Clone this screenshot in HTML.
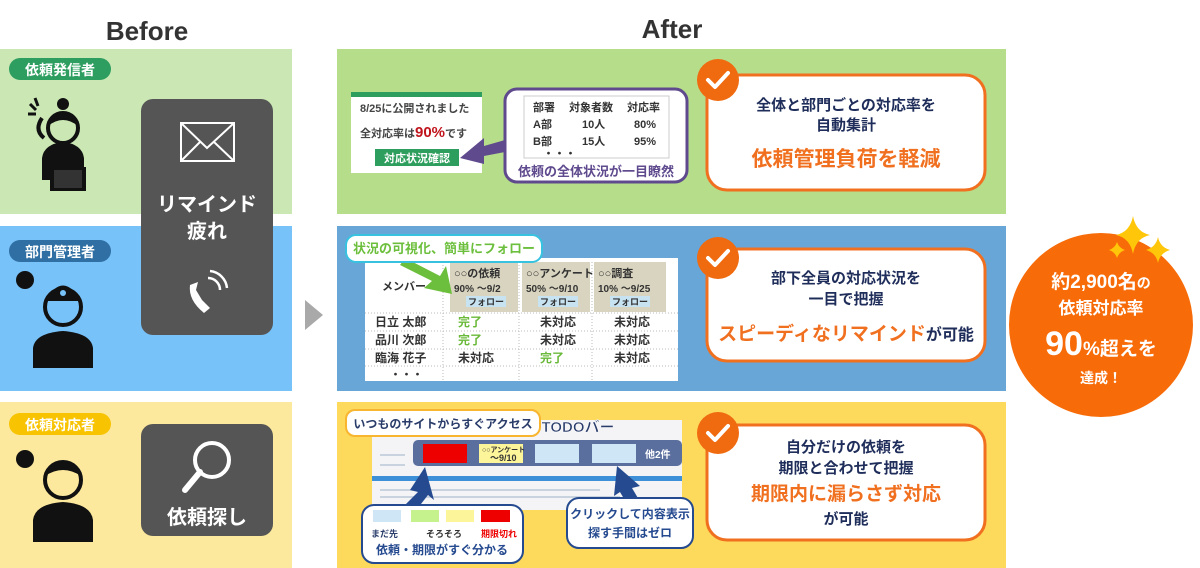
<!DOCTYPE html>
<html><head><meta charset="utf-8"><style>
body{margin:0;background:#fff}
svg{display:block}
text{font-family:"Liberation Sans","Noto Sans CJK JP",sans-serif;font-weight:bold}
</style></head><body>
<svg width="1200" height="568" viewBox="0 0 1200 568" xmlns="http://www.w3.org/2000/svg">
<text x="147" y="40" font-size="26" fill="#333" text-anchor="middle">Before</text>
<text x="672" y="38" font-size="26" fill="#333" text-anchor="middle">After</text>
<rect x="0" y="49" width="292" height="165" fill="#cbe8b4"/>
<rect x="0" y="226" width="292" height="165" fill="#78c2fa"/>
<rect x="0" y="402" width="292" height="166" fill="#fde99d"/>
<rect x="9" y="58" width="102" height="22" rx="11" fill="#2e9e60"/>
<text x="60" y="75" font-size="14" fill="#fff" text-anchor="middle">依頼発信者</text>
<rect x="9" y="240" width="102" height="22" rx="11" fill="#2f6fa3"/>
<text x="60" y="257" font-size="14" fill="#fff" text-anchor="middle">部門管理者</text>
<rect x="9" y="413" width="102" height="22" rx="11" fill="#f8c300"/>
<text x="60" y="430" font-size="14" fill="#fff" text-anchor="middle">依頼対応者</text>
<!-- persons -->
<g fill="#111">
 <circle cx="63" cy="128" r="15" fill="none" stroke="#111" stroke-width="4"/>
 <path d="M48 126 Q63 100 78 126 Q63 114 48 126Z"/>
 <circle cx="63" cy="104" r="6"/>
 <path d="M42 180 L42 158 Q44 144 63 142 Q82 144 84 158 L84 180Z"/>
 <rect x="50" y="167" width="36" height="24" fill="#111"/>
 <rect x="54" y="170" width="28" height="18" fill="#333"/>
 <path d="M42 118 Q34 130 44 138" fill="none" stroke="#111" stroke-width="4"/>
 <path d="M30 104 L36 110 M28 114 L36 114 M35 98 L38 106" stroke="#111" stroke-width="3"/>
 <circle cx="63" cy="307" r="18" fill="none" stroke="#111" stroke-width="4"/>
 <path d="M45 301 Q63 270 81 301Z"/>
 <circle cx="63" cy="293" r="3" fill="#78c2fa"/>
 <path d="M33 368 L33 348 Q35 333 63 331 Q91 333 93 348 L93 368Z"/>
 <circle cx="25" cy="280" r="9"/>
 <circle cx="63" cy="480" r="18" fill="none" stroke="#111" stroke-width="4"/>
 <path d="M45 476 Q63 448 81 476 Q63 464 45 476Z"/>
 <path d="M33 542 L33 520 Q35 504 63 502 Q91 504 93 520 L93 542Z"/>
 <circle cx="25" cy="459" r="9"/>
</g>
<rect x="141" y="99" width="132" height="236" rx="12" fill="#555"/>
<rect x="181" y="123" width="53" height="38" fill="none" stroke="#fff" stroke-width="2"/>
<path d="M181 123 L207 148 L234 123 M181 161 L200 142 M234 161 L214 142" fill="none" stroke="#fff" stroke-width="2"/>
<text x="207" y="211" font-size="20" fill="#fff" text-anchor="middle">リマインド</text>
<text x="207" y="238" font-size="20" fill="#fff" text-anchor="middle">疲れ</text>
<path d="M190 285 Q188 300 204 313 L210 308 L202 300 L196 290 L198 282Z" fill="#fff"/>
<path d="M208 278 A12 12 0 0 1 220 290 M210 271 A19 19 0 0 1 227 288" fill="none" stroke="#fff" stroke-width="2.5"/>
<rect x="141" y="424" width="132" height="112" rx="12" fill="#555"/>
<circle cx="212" cy="460" r="17" fill="none" stroke="#fff" stroke-width="4"/>
<path d="M200 472 L185 490" stroke="#fff" stroke-width="6" stroke-linecap="round"/>
<text x="207" y="524" font-size="20" fill="#fff" text-anchor="middle">依頼探し</text>
<polygon points="305,300 323,315 305,330" fill="#a9a9a9"/>
<rect x="337" y="49" width="669" height="165" fill="#b6dd8a"/>
<rect x="337" y="226" width="669" height="165" fill="#68a6d8"/>
<rect x="337" y="402" width="669" height="166" fill="#fdd95c"/>
<rect x="351" y="92" width="131" height="81" fill="#fff"/>
<rect x="351" y="92" width="131" height="5" fill="#2e9e5e"/>
<text x="360" y="112" font-size="11" fill="#444" font-weight="normal">8/25に公開されました</text>
<text x="360" y="137" font-size="11" fill="#444" font-weight="normal">全対応率は<tspan fill="#c0141c" font-size="15" font-weight="bold">90%</tspan>です</text>
<rect x="375" y="149" width="84" height="17" fill="#2e9e5e"/>
<text x="417" y="162" font-size="11" fill="#fff" text-anchor="middle">対応状況確認</text>
<rect x="505" y="89" width="182" height="93" rx="12" fill="#fff" stroke="#5f4a8e" stroke-width="3"/>
<rect x="524" y="96" width="145" height="62" fill="none" stroke="#ccc"/>
<g font-size="11" fill="#333" font-weight="normal">
<text x="533" y="111">部署</text><text x="569" y="111">対象者数</text><text x="627" y="111">対応率</text>
<text x="533" y="128">A部</text><text x="582" y="128">10人</text><text x="634" y="128">80%</text>
<text x="533" y="145">B部</text><text x="582" y="145">15人</text><text x="634" y="145">95%</text>
<text x="543" y="157">・・・</text></g>
<text x="596" y="176" font-size="13" fill="#5f4a8e" text-anchor="middle">依頼の全体状況が一目瞭然</text>
<polygon points="460,158 484,138 484,146 505,140 505,152 484,156 484,164" fill="#5f4a8e"/>
<rect x="365" y="258" width="313" height="123" fill="#fff"/>
<rect x="450" y="262" width="68" height="50" fill="#d9d4bf"/>
<rect x="522" y="262" width="68" height="50" fill="#d9d4bf"/>
<rect x="594" y="262" width="72" height="50" fill="#d9d4bf"/>
<rect x="466" y="296" width="40" height="11" fill="#c7e2f1"/><rect x="538" y="296" width="40" height="11" fill="#c7e2f1"/><rect x="610" y="296" width="40" height="11" fill="#c7e2f1"/>
<g stroke="#bbb" stroke-dasharray="1,2">
<line x1="365" y1="313" x2="678" y2="313"/><line x1="365" y1="331" x2="678" y2="331"/><line x1="365" y1="349" x2="678" y2="349"/><line x1="365" y1="366" x2="678" y2="366"/>
<line x1="443" y1="262" x2="443" y2="381"/><line x1="519" y1="262" x2="519" y2="381"/><line x1="592" y1="262" x2="592" y2="381"/>
</g>
<g font-size="11" fill="#333" font-weight="normal">
<text x="382" y="290">メンバー</text>
<text x="454" y="277">○○の依頼</text><text x="454" y="292" font-size="10">90% ～9/2</text><text x="486" y="305" font-size="9" text-anchor="middle">フォロー</text>
<text x="526" y="277">○○アンケート</text><text x="526" y="292" font-size="10">50% ～9/10</text><text x="558" y="305" font-size="9" text-anchor="middle">フォロー</text>
<text x="598" y="277">○○調査</text><text x="598" y="292" font-size="10">10% ～9/25</text><text x="630" y="305" font-size="9" text-anchor="middle">フォロー</text>
<text x="375" y="326" font-size="12">日立 太郎</text><text x="375" y="344" font-size="12">品川 次郎</text><text x="375" y="362" font-size="12">臨海 花子</text><text x="390" y="378">・・・</text>
<g font-size="12"><text x="458" y="326" fill="#6ab93a">完了</text><text x="540" y="326">未対応</text><text x="614" y="326">未対応</text>
<text x="458" y="344" fill="#6ab93a">完了</text><text x="540" y="344">未対応</text><text x="614" y="344">未対応</text>
<text x="458" y="362">未対応</text><text x="540" y="362" fill="#6ab93a">完了</text><text x="614" y="362">未対応</text></g>
</g>
<polygon points="405,258 440,276 446,266 452,294 424,288 432,281 400,265" fill="#6cbf3c"/>
<rect x="346" y="235" width="196" height="27" rx="10" fill="#fff" stroke="#37c3e0" stroke-width="2"/>
<text x="444" y="253" font-size="13" fill="#6cbf3c" text-anchor="middle">状況の可視化、簡単にフォロー</text>
<rect x="372" y="420" width="310" height="90" fill="#f4f4f6"/>
<rect x="372" y="476" width="310" height="5" fill="#3d8fd8"/>
<g stroke="#c9d3e0" stroke-width="2"><line x1="380" y1="455" x2="405" y2="455"/><line x1="380" y1="465" x2="405" y2="465"/><line x1="380" y1="490" x2="600" y2="490"/><line x1="380" y1="497" x2="620" y2="497"/></g>
<rect x="413" y="440" width="269" height="26" rx="5" fill="#5a6f9e"/>
<rect x="423" y="444" width="44" height="19" fill="#ee0000"/>
<rect x="479" y="444" width="44" height="19" fill="#fdf59a"/>
<text x="482" y="452" font-size="7" fill="#333" font-weight="normal">○○アンケート</text>
<text x="490" y="461" font-size="9" fill="#333" font-weight="normal">～9/10</text>
<rect x="535" y="444" width="44" height="19" fill="#cfe6f7"/>
<rect x="592" y="444" width="44" height="19" fill="#cfe6f7"/>
<text x="645" y="458" font-size="10" fill="#fff" font-weight="normal">他2件</text>
<rect x="346" y="410" width="194" height="26" rx="9" fill="#fff" stroke="#f8b530" stroke-width="2"/>
<text x="443" y="428" font-size="12" fill="#2a3d6a" text-anchor="middle">いつものサイトからすぐアクセス</text>
<text x="578" y="432" font-size="15" fill="#2a3d6a" stroke="#fff" stroke-width="0.5" text-anchor="middle">TODOバー</text>
<polygon points="425,467 410,490 418,492 395,515 410,518 428,495 434,500" fill="#254a8f"/>
<polygon points="617,466 640,486 632,488 645,510 633,514 620,492 614,496" fill="#254a8f"/>
<rect x="362" y="505" width="161" height="58" rx="12" fill="#fff" stroke="#254a8f" stroke-width="2"/>
<rect x="373" y="510" width="28" height="12" fill="#cfe6f7"/><rect x="411" y="510" width="28" height="12" fill="#c6f28e"/><rect x="446" y="510" width="28" height="12" fill="#fdf59a"/><rect x="481" y="510" width="29" height="12" fill="#ee0000"/>
<text x="371" y="537" font-size="9" fill="#2a3d6a">まだ先</text><text x="426" y="537" font-size="9" fill="#333">そろそろ</text><text x="481" y="537" font-size="9" fill="#e00">期限切れ</text>
<text x="442" y="554" font-size="12" fill="#254a8f" text-anchor="middle">依頼・期限がすぐ分かる</text>
<rect x="567" y="498" width="126" height="50" rx="12" fill="#fff" stroke="#254a8f" stroke-width="2"/>
<text x="630" y="518" font-size="12" fill="#254a8f" text-anchor="middle">クリックして内容表示</text>
<text x="630" y="537" font-size="12" fill="#254a8f" text-anchor="middle">探す手間はゼロ</text>
<g>
<rect x="707" y="75" width="278" height="115" rx="20" fill="#fff" stroke="#f07020" stroke-width="3"/>
<text x="846" y="110" font-size="15" fill="#1f2d5a" text-anchor="middle">全体と部門ごとの対応率を</text>
<text x="846" y="130" font-size="15" fill="#1f2d5a" text-anchor="middle">自動集計</text>
<text x="846" y="166" font-size="21" fill="#f07020" text-anchor="middle">依頼管理負荷を軽減</text>
<rect x="707" y="249" width="278" height="112" rx="20" fill="#fff" stroke="#f07020" stroke-width="3"/>
<text x="846" y="283" font-size="15" fill="#1f2d5a" text-anchor="middle">部下全員の対応状況を</text>
<text x="846" y="304" font-size="15" fill="#1f2d5a" text-anchor="middle">一目で把握</text>
<text x="846" y="340" font-size="19" fill="#f07020" text-anchor="middle">スピーディなリマインド<tspan fill="#1f2d5a" font-size="16">が可能</tspan></text>
<rect x="707" y="425" width="278" height="115" rx="20" fill="#fff" stroke="#f07020" stroke-width="3"/>
<text x="846" y="452" font-size="15" fill="#1f2d5a" text-anchor="middle">自分だけの依頼を</text>
<text x="846" y="473" font-size="15" fill="#1f2d5a" text-anchor="middle">期限と合わせて把握</text>
<text x="846" y="500" font-size="19" fill="#f07020" text-anchor="middle">期限内に漏らさず対応</text>
<text x="846" y="524" font-size="15" fill="#1f2d5a" text-anchor="middle">が可能</text>
<g fill="#f06a10"><circle cx="718" cy="80" r="21"/><circle cx="718" cy="258" r="21"/><circle cx="718" cy="433" r="21"/></g>
<g fill="none" stroke="#fff" stroke-width="4" stroke-linecap="round" stroke-linejoin="round">
<path d="M708 80 L715 87 L728 73"/><path d="M708 258 L715 265 L728 251"/><path d="M708 433 L715 440 L728 426"/></g>
</g>
<circle cx="1101" cy="325" r="92" fill="#f76b08"/>
<g fill="#ffc60a">
<path d="M1133 216 Q1136 232 1150 235 Q1136 238 1133 254 Q1130 238 1116 235 Q1130 232 1133 216Z"/>
<path d="M1158 237 Q1160 247 1170 250 Q1160 253 1158 263 Q1156 253 1146 250 Q1156 247 1158 237Z"/>
<path d="M1117 242 Q1119 248 1125 250 Q1119 252 1117 258 Q1115 252 1109 250 Q1115 248 1117 242Z"/>
</g>
<g fill="#fff" text-anchor="middle">
<text x="1101" y="288" font-size="19">約2,900名<tspan font-size="14">の</tspan></text>
<text x="1101" y="314" font-size="17">依頼対応率</text>
<text x="1101" y="355" font-size="34">90<tspan font-size="19">%超えを</tspan></text>
<text x="1101" y="383" font-size="14">達成！</text>
</g>
</svg>
</body></html>
